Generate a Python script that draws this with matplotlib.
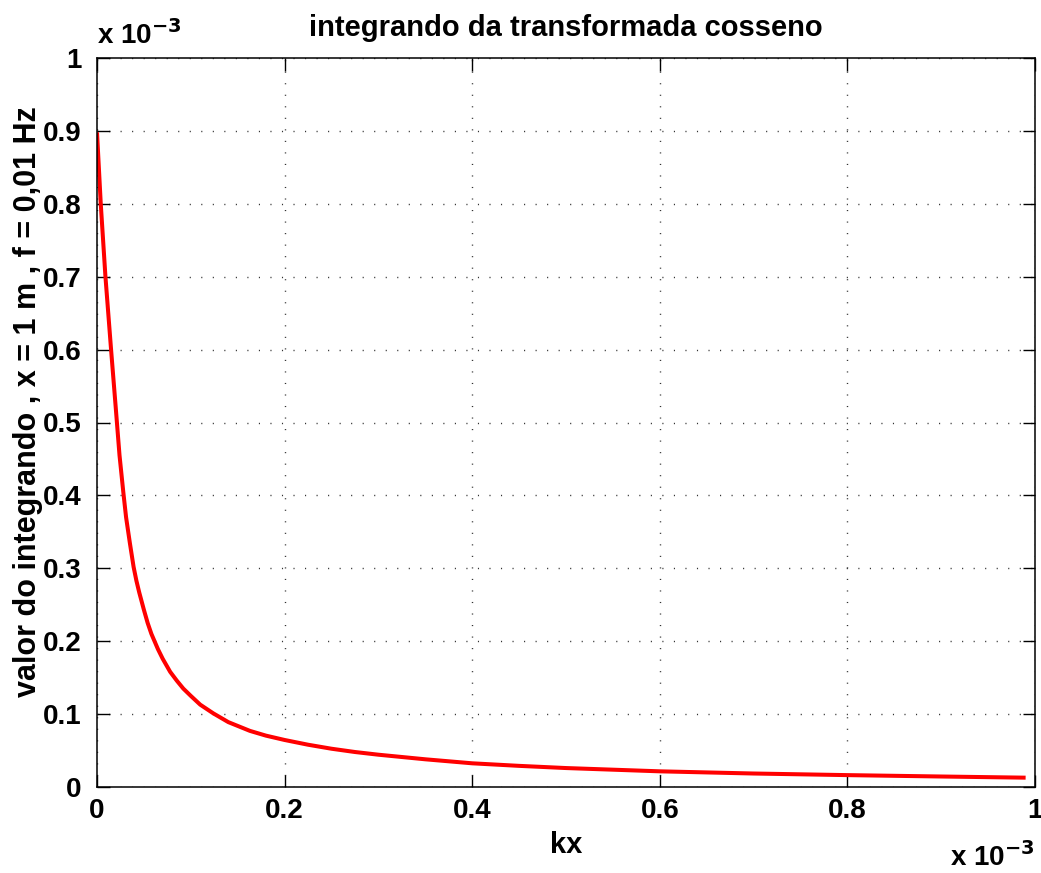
import numpy as np
import matplotlib
matplotlib.use('Agg')
import matplotlib.pyplot as plt
from matplotlib.ticker import FuncFormatter

# kx e valor do integrando, ambos em unidades de 1e-3
kx = [0, 0.004, 0.009, 0.015, 0.02, 0.024, 0.028, 0.031, 0.035, 0.039,
      0.042, 0.045, 0.05, 0.054, 0.058, 0.065, 0.07, 0.078, 0.085, 0.092,
      0.1, 0.11, 0.124, 0.14, 0.163, 0.18, 0.2, 0.225, 0.25, 0.275,
      0.3, 0.35, 0.4, 0.45, 0.5, 0.6, 0.7, 0.8, 0.9, 0.99]
valor = [0.898, 0.80, 0.70, 0.60, 0.52, 0.455, 0.405, 0.37, 0.335, 0.302,
         0.283, 0.267, 0.243, 0.225, 0.21, 0.189, 0.176, 0.158, 0.146, 0.135,
         0.125, 0.113, 0.101, 0.089, 0.077, 0.0705, 0.0645, 0.058, 0.0525, 0.048,
         0.0443, 0.038, 0.0325, 0.029, 0.026, 0.0215, 0.0185, 0.0163, 0.0144, 0.0128]

xticks = [0, 0.2, 0.4, 0.6, 0.8, 1.0]
yticks = [0, 0.1, 0.2, 0.3, 0.4, 0.5, 0.6, 0.7, 0.8, 0.9, 1.0]

escala = 1e-3
fonte = 'Liberation Sans'
tam = 20      # numeros dos eixos
tam_rot = 21  # titulo e rotulos

fig = plt.figure(figsize=(10.41, 8.73), dpi=100)
ax = fig.add_axes([97/1041, 1 - 787/873, (1035 - 97)/1041, (787 - 58)/873])

ax.plot(np.array(kx)*escala, np.array(valor)*escala, color='#ff0000', lw=2.9,
        solid_capstyle='butt', solid_joinstyle='round')

ax.set_xlim(0, 1e-3)
ax.set_ylim(0, 1e-3)
ax.set_xticks(np.array(xticks)*escala)
ax.set_yticks(np.array(yticks)*escala)
fmt = FuncFormatter(lambda v, pos: '%g' % round(v/escala, 3))
ax.xaxis.set_major_formatter(fmt)
ax.yaxis.set_major_formatter(fmt)

ax.tick_params(direction='in', length=9, width=1, top=True, right=True,
               labelsize=tam)
ax.tick_params(axis='y', pad=11)
ax.tick_params(axis='x', pad=8)
for lab in ax.get_xticklabels() + ax.get_yticklabels():
    lab.set_fontfamily(fonte)
    lab.set_fontweight('bold')
for s in ax.spines.values():
    s.set_linewidth(1.1)

ax.grid(True, color='#333333', linestyle=(0, (0.8, 7.5)), linewidth=1.0)

ax.set_title('integrando da transformada cosseno', fontsize=tam_rot,
             fontweight='bold', family=fonte, pad=16)
ax.set_xlabel('kx', fontsize=tam_rot, fontweight='bold', family=fonte, labelpad=5)
ax.set_ylabel('valor do integrando , x = 1 m , f = 0,01 Hz', fontsize=tam_rot + 1,
              fontweight='bold', family=fonte)
ax.yaxis.set_label_coords(-0.058, 0.528)

# multiplicadores dos eixos
fig.text(97/1041, 1 - 44/873, r'x 10$^{\mathbf{-3}}$', fontsize=tam,
         fontweight='bold', family=fonte, ha='left', va='baseline')
fig.text(1035/1041, 1 - 866/873, r'x 10$^{\mathbf{-3}}$', fontsize=tam,
         fontweight='bold', family=fonte, ha='right', va='baseline')

fig.savefig('out.png', dpi=100)
